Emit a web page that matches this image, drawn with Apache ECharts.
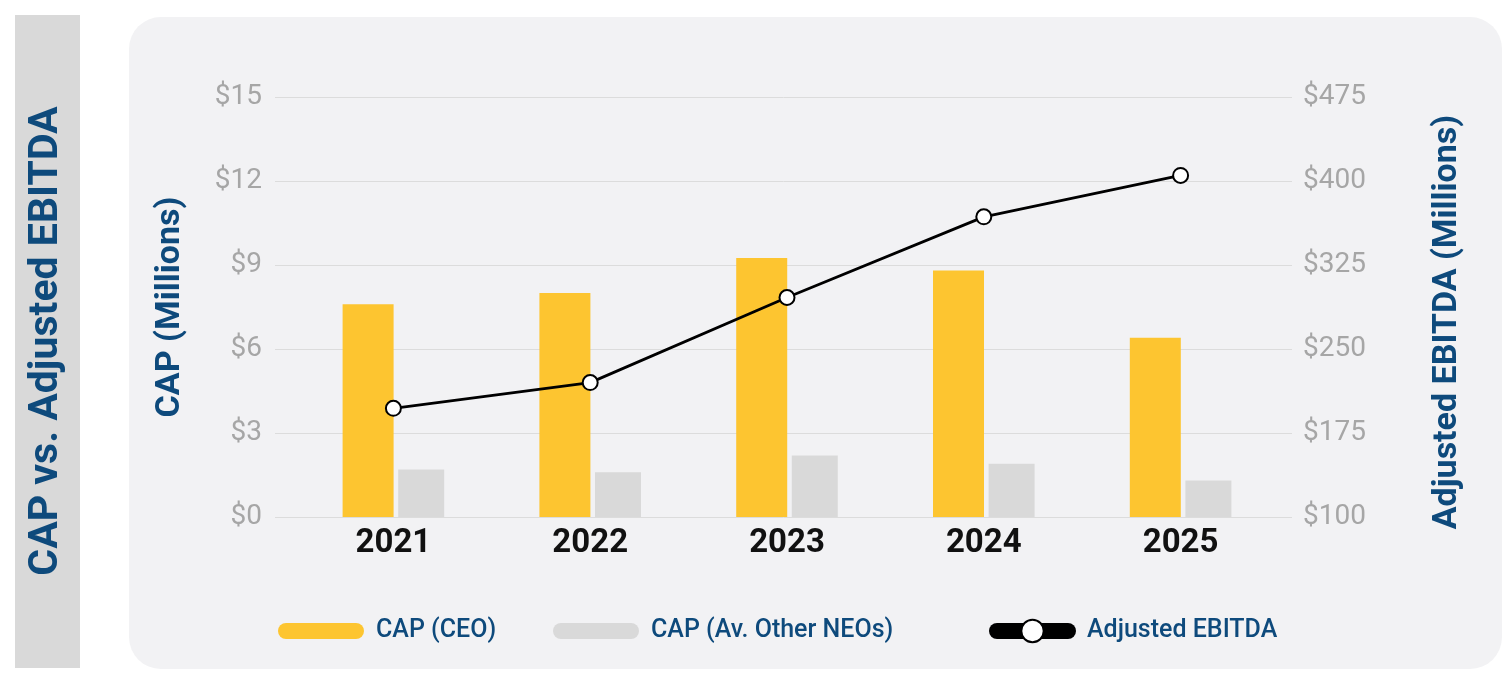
<!DOCTYPE html>
<html>
<head>
<meta charset="utf-8">
<script src="https://cdn.jsdelivr.net/npm/echarts@6/dist/echarts.min.js"></script>
<style>
  html, body { margin: 0; padding: 0; background: #fff; }
  #chart { width: 1512px; height: 684px; }
</style>
</head>
<body>
<div id="chart"></div>
<script>
var years = ['2021', '2022', '2023', '2024', '2025']
var capCeo = [7.6, 8.0, 9.25, 8.8, 6.4]
var capOther = [1.7, 1.6, 2.2, 1.9, 1.3]
var ebitda = [197, 220, 296, 368, 405]

var navy = '#0e4a7c'
var font = 'Roboto'
// pill shaped legend marker
var pill = 'path://M8,0 H78 A8,8 0 0 1 78,16 H8 A8,8 0 0 1 8,0 Z'
var legendText = { color: navy, fontSize: 25, fontWeight: 500, lineHeight: 28, padding: [0, 0, 0, 7] }

let myChart = echarts.init(document.getElementById('chart'))
let option = {
    backgroundColor: '#fff',
    animation: false,
    textStyle: { fontFamily: font },
    graphic: [
        {
            type: 'rect', silent: true, z: -10,
            shape: { x: 15, y: 15, width: 65, height: 653 },
            style: { fill: '#d9d9d9' }
        }, {
            type: 'rect', silent: true, z: -10,
            shape: { x: 129, y: 17, width: 1373, height: 652, r: 32 },
            style: { fill: '#f2f2f4' }
        }, {
            type: 'text', silent: true,
            x: 47, y: 341, rotation: Math.PI / 2,
            style: {
                text: 'CAP vs. Adjusted EBITDA',
                fill: navy,
                font: 'bold 41px Roboto',
                textAlign: 'center',
                textVerticalAlign: 'middle'
            }
        }
    ],
    legend: [
        {
            data: ['CAP (CEO)'],
            left: 278, top: 617, padding: 0,
            icon: pill, itemWidth: 86, itemHeight: 16,
            textStyle: legendText
        }, {
            data: ['CAP (Av. Other NEOs)'],
            left: 553, top: 617, padding: 0,
            icon: pill, itemWidth: 86, itemHeight: 16,
            textStyle: legendText
        }, {
            data: ['Adjusted EBITDA'],
            left: 989, top: 617, padding: 0,
            itemWidth: 71, itemHeight: 28,
            lineStyle: { width: 16, cap: 'round', color: '#000' },
            textStyle: { color: navy, fontSize: 25, fontWeight: 500, lineHeight: 28, padding: [0, 0, 0, 14] }
        }
    ],
    grid: [
        { left: 275, right: 220, top: 97, bottom: 167 },
        { left: 295, right: 233, top: 97, bottom: 167 }
    ],
    xAxis: [
        {
            type: 'category', gridIndex: 0, data: years, show: false
        }, {
            type: 'category', gridIndex: 1, data: years,
            axisLine: { show: false },
            axisTick: { show: false },
            axisLabel: { color: '#111', fontSize: 33, fontWeight: 'bold', margin: 10 }
        }
    ],
    yAxis: [
        {
            type: 'value', gridIndex: 0, position: 'left',
            min: 0, max: 15, interval: 3,
            name: 'CAP (Millions)', nameLocation: 'middle', nameRotate: 90, nameGap: 88,
            nameTextStyle: { color: navy, fontSize: 34, fontWeight: 'bold' },
            axisLabel: { color: '#a6a6a6', fontSize: 28, margin: 13, formatter: '${value}' },
            splitLine: { lineStyle: { color: '#dcdcdc', width: 1 } },
            axisLine: { show: false }, axisTick: { show: false }
        }, {
            type: 'value', gridIndex: 0, position: 'right',
            min: 100, max: 475, interval: 75,
            name: 'Adjusted EBITDA (Millions)', nameLocation: 'middle', nameRotate: 90, nameGap: 138,
            nameTextStyle: { color: navy, fontSize: 34, fontWeight: 'bold', padding: [0, 30, 0, 0] },
            axisLabel: { color: '#a6a6a6', fontSize: 28, margin: 11, formatter: '${value}' },
            splitLine: { show: false },
            axisLine: { show: false }, axisTick: { show: false }
        }, {
            type: 'value', gridIndex: 1, min: 0, max: 15, interval: 3, show: false,
            splitLine: { show: false }
        }, {
            type: 'value', gridIndex: 1, min: 100, max: 475, interval: 75, show: false,
            splitLine: { show: false }
        }
    ],
    series: [
        {
            name: 'CAP (CEO)',
            type: 'bar',
            xAxisIndex: 1, yAxisIndex: 2,
            data: capCeo,
            barWidth: 51,
            barGap: '9%',
            itemStyle: { color: '#fdc530' }
        }, {
            name: 'CAP (Av. Other NEOs)',
            type: 'bar',
            xAxisIndex: 1, yAxisIndex: 2,
            data: capOther,
            barWidth: 46,
            itemStyle: { color: '#d9d9d9' }
        }, {
            name: 'Adjusted EBITDA',
            type: 'line',
            xAxisIndex: 1, yAxisIndex: 3,
            data: ebitda,
            z: 5,
            symbol: 'circle',
            symbolSize: 15,
            lineStyle: { color: '#000', width: 2.8 },
            itemStyle: { color: '#fff', borderColor: '#000', borderWidth: 2 }
        }
    ]
}

myChart.setOption(option)
</script>
</body>
</html>
